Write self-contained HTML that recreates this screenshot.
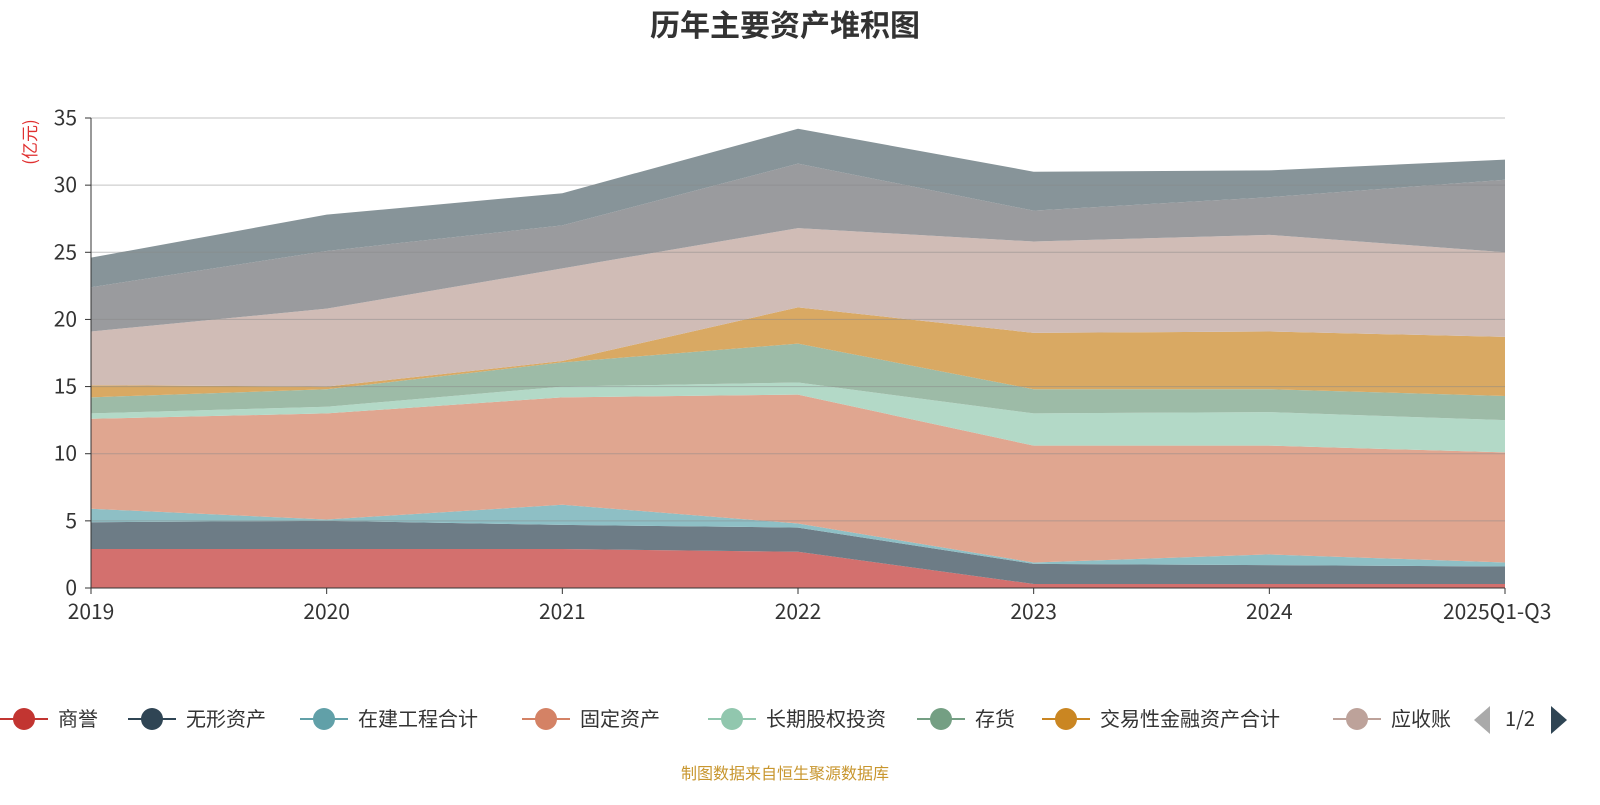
<!DOCTYPE html>
<html><head><meta charset="utf-8"><style>
body{margin:0;background:#fff;width:1600px;height:800px;overflow:hidden;font-family:"Noto Sans CJK SC","Liberation Sans",sans-serif}
svg text{font-family:"Noto Sans CJK SC","Liberation Sans",sans-serif}
</style></head><body>
<svg id="c" width="1600" height="800" xmlns="http://www.w3.org/2000/svg">
<text x="785" y="36" text-anchor="middle" font-size="30" font-weight="bold" fill="#333">历年主要资产堆积图</text>
<text transform="translate(36,142) rotate(-90)" text-anchor="middle" font-size="17" fill="#e03030">(亿元)</text>
<g id="areas"></g><g id="grid"></g><g id="axes"></g><g id="legend"></g>
<text x="785" y="779" text-anchor="middle" font-size="16" fill="#c8962e">制图数据来自恒生聚源数据库</text>
</svg>
<script>
const categories=["2019","2020","2021","2022","2023","2024","2025Q1-Q3"];
const seriesNames=["商誉","无形资产","在建工程合计","固定资产","长期股权投资","存货","交易性金融资产合计","应收账款","其他1","其他2"];
const goodwill=[2.9,2.9,2.9,2.7,0.3,0.3,0.3];
const intangible=[2.0,2.1,1.8,1.8,1.5,1.4,1.3];
const construction=[1.0,0.1,1.5,0.3,0.1,0.8,0.3];
const fixedAssets=[6.7,7.9,8.0,9.6,8.7,8.1,8.2];
const equityInvest=[0.4,0.5,0.8,0.9,2.4,2.5,2.4];
const inventory=[1.2,1.3,1.8,2.9,1.8,1.7,1.8];
const tradingAssets=[0.9,0.2,0.1,2.7,4.2,4.3,4.4];
const receivables=[4.0,5.8,6.9,5.9,6.8,7.2,6.3];
const other1=[3.3,4.3,3.2,4.8,2.3,2.8,5.4];
const other2=[2.2,2.7,2.4,2.6,2.9,2.0,1.5];
const yTicks=[0,5,10,15,20,25,30,35];
const series=[goodwill,intangible,construction,fixedAssets,equityInvest,inventory,tradingAssets,receivables,other1,other2];
const fills=["#d3706e","#6d7c86","#8ebfc5","#e0a690","#b3d9c7","#9dbba7","#d9a963","#d0bcb6","#9a9b9e","#879499"];
const legendColors=["#c23531","#2f4554","#61a0a8","#d48265","#91c7ae","#749f83","#ca8622","#bda29a"];
const NS="http://www.w3.org/2000/svg";
const x0=91,x1=1505,y0=588,yTop=118,yMax=35;
const xs=i=>x0+(x1-x0)*i/(categories.length-1);
const ys=v=>y0-(y0-yTop)*v/yMax;
function mk(t,a,p){const e=document.createElementNS(NS,t);for(const k in a)e.setAttribute(k,a[k]);p.appendChild(e);return e;}
let base=categories.map(()=>0);
const A=document.getElementById('areas');
series.forEach((s,k)=>{
  const top=base.map((b,i)=>b+s[i]);
  let d="M"+top.map((v,i)=>xs(i)+","+ys(v)).join(" L");
  for(let i=categories.length-1;i>=0;i--)d+=" L"+xs(i)+","+ys(base[i]);
  const p=mk('path',{d:d+"Z",fill:fills[k]},A);
  
  
  base=top;
});
const G=document.getElementById('grid');
yTicks.forEach(t=>{
  if(t>0){const l=mk('line',{x1:x0,x2:x1,y1:ys(t),y2:ys(t),stroke:"#888","stroke-opacity":0.5,"stroke-width":1},G);
  }
  const tx=mk('text',{x:x0-14,y:ys(t)+7,"text-anchor":"end","font-size":21,fill:"#333"},G);tx.textContent=t;
  
  mk('line',{x1:x0-6,x2:x0,y1:ys(t),y2:ys(t),stroke:"#333"},G);
});
const X=document.getElementById('axes');
mk('line',{x1:x0,x2:x0,y1:yTop,y2:y0,stroke:"#333"},X);
mk('line',{x1:x0,x2:x1,y1:y0,y2:y0,stroke:"#333"},X);
categories.forEach((c,i)=>{
  mk('line',{x1:xs(i),x2:xs(i),y1:y0,y2:y0+6,stroke:"#333"},X);
  const t=mk('text',{x:xs(i),y:619,"text-anchor":i==categories.length-1?"start":"middle","font-size":21,fill:"#333"},X);
  if(i==categories.length-1)t.setAttribute('x',xs(i)-62);
  t.textContent=c;
  
});
const L=document.getElementById('legend');
const lx=[0,128,300,522,708,917,1042,1333];
seriesNames.slice(0,8).forEach((n,k)=>{
  const g=mk('g',{},L);
  
  const x=lx[k];
  mk('line',{x1:x,x2:x+48,y1:719,y2:719,stroke:legendColors[k],"stroke-width":2},g);
  mk('circle',{cx:x+24,cy:719,r:11,fill:legendColors[k]},g);
  const t=mk('text',{x:x+58,y:726,"font-size":20,fill:"#333"},g);t.textContent=k==7?"应收账":n;
});
mk('rect',{x:1468,y:700,width:30,height:40,fill:"#fff"},L);
const pv=mk('path',{d:"M1490,706 L1474,720 L1490,734Z",fill:"#aaa"},L);

const pt=mk('text',{x:1520,y:726,"text-anchor":"middle","font-size":20,fill:"#333"},L);pt.textContent="1/2";
const nx=mk('path',{d:"M1551,706 L1567,720 L1551,734Z",fill:"#2f4554"},L);

</script>
</body></html>
